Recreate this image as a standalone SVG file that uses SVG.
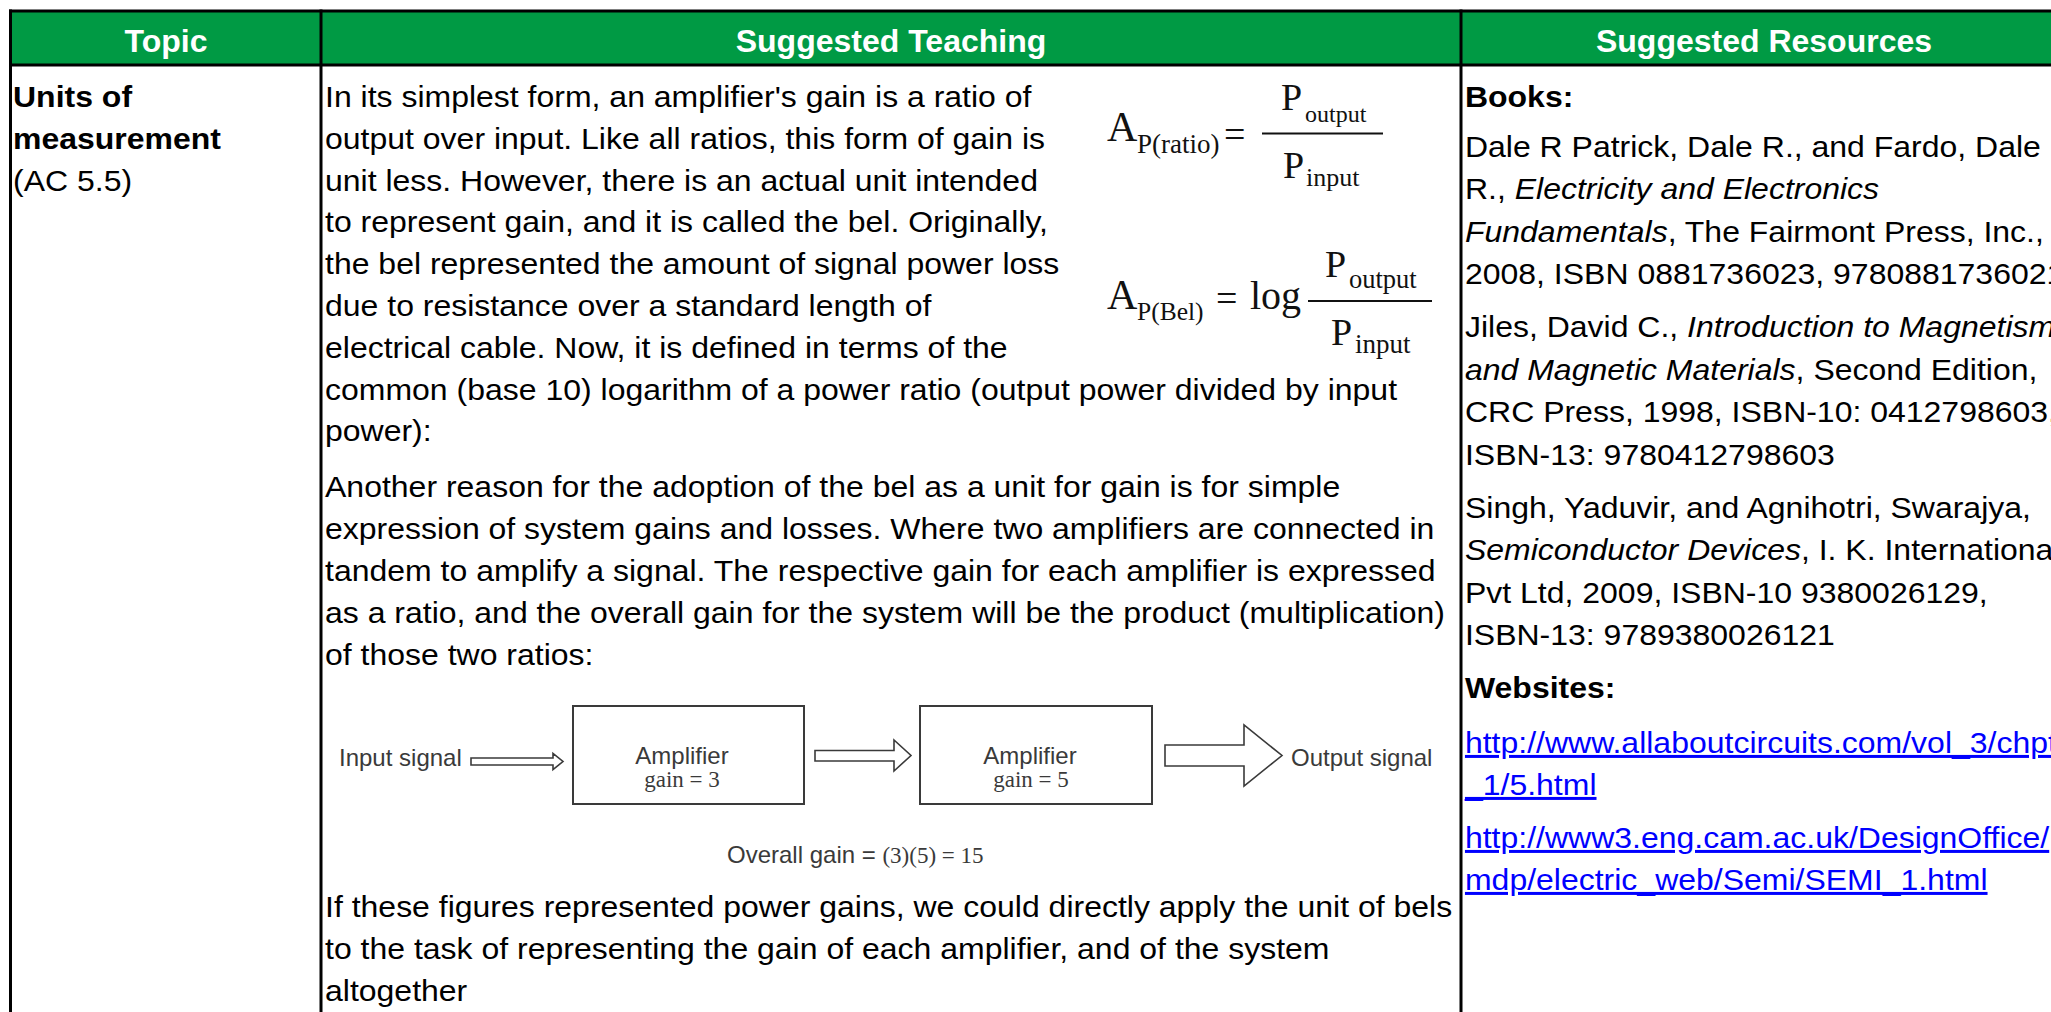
<svg xmlns="http://www.w3.org/2000/svg" width="2051" height="1012" viewBox="0 0 2051 1012">
<style>
.t{font-family:"Liberation Sans",Arial,sans-serif;font-size:30px;fill:#000}
.b{font-weight:bold}
.h{font-family:"Liberation Sans",Arial,sans-serif;font-size:32px;font-weight:bold;fill:#fff;text-anchor:middle}
.i{font-style:italic}
.lk{fill:#0000ff;text-decoration:underline}
.f{font-family:"Liberation Serif","Times New Roman",serif;fill:#111}
.d{font-family:"Liberation Sans",Arial,sans-serif;font-size:24px;fill:#3a3a3a}
.ds{font-family:"Liberation Serif","Times New Roman",serif;font-size:23px;fill:#3a3a3a}
.box{fill:#fff;stroke:#3a3a3a;stroke-width:2}
.arr{fill:#fff;stroke:#3a3a3a;stroke-width:1.6;stroke-linejoin:miter}
.grid{stroke:#000;stroke-width:3;fill:none}
.bar{stroke:#111;stroke-width:2}
</style>
<rect width="2051" height="1012" fill="#fff"/>
<g id="header">
<rect x="10.5" y="11" width="2080" height="54" fill="#009a44"/>
<text class="h" x="166" y="52">Topic</text>
<text class="h" x="891" y="52">Suggested Teaching</text>
<text class="h" x="1764" y="52">Suggested Resources</text>
</g>
<g id="grid">
<line class="grid" x1="9" y1="11" x2="2100" y2="11"/>
<line class="grid" x1="9" y1="65" x2="2100" y2="65"/>
<line class="grid" x1="10.5" y1="9.5" x2="10.5" y2="1012"/>
<line class="grid" x1="321" y1="9.5" x2="321" y2="1012"/>
<line class="grid" x1="1461" y1="9.5" x2="1461" y2="1012"/>
</g>
<g id="cell-topic" transform="scale(1.066667,1)">
<text class="t b" x="12.2" y="107">Units of</text>
<text class="t b" x="12.2" y="149">measurement</text>
<text class="t" x="12.2" y="191.5">(AC 5.5)</text>
</g>
<g id="cell-teaching" transform="scale(1.066667,1)">
<text class="t" x="304.7" y="107">In its simplest form, an amplifier's gain is a ratio of</text>
<text class="t" x="304.7" y="148.8">output over input. Like all ratios, this form of gain is</text>
<text class="t" x="304.7" y="190.6">unit less. However, there is an actual unit intended</text>
<text class="t" x="304.7" y="232.4">to represent gain, and it is called the bel. Originally,</text>
<text class="t" x="304.7" y="274.2">the bel represented the amount of signal power loss</text>
<text class="t" x="304.7" y="316">due to resistance over a standard length of</text>
<text class="t" x="304.7" y="357.8">electrical cable. Now, it is defined in terms of the</text>
<text class="t" x="304.7" y="399.6">common (base 10) logarithm of a power ratio (output power divided by input</text>
<text class="t" x="304.7" y="441.4">power):</text>
<text class="t" x="304.7" y="497">Another reason for the adoption of the bel as a unit for gain is for simple</text>
<text class="t" x="304.7" y="539">expression of system gains and losses. Where two amplifiers are connected in</text>
<text class="t" x="304.7" y="581">tandem to amplify a signal. The respective gain for each amplifier is expressed</text>
<text class="t" x="304.7" y="623">as a ratio, and the overall gain for the system will be the product (multiplication)</text>
<text class="t" x="304.7" y="665">of those two ratios:</text>
<text class="t" x="304.7" y="917">If these figures represented power gains, we could directly apply the unit of bels</text>
<text class="t" x="304.7" y="959">to the task of representing the gain of each amplifier, and of the system</text>
<text class="t" x="304.7" y="1001">altogether</text>
</g>
<g id="formula-ratio">
<text class="f" font-size="42" x="1107" y="141">A</text>
<text class="f" font-size="27" x="1137" y="153">P(ratio)</text>
<text class="f" font-size="38" x="1224" y="147">=</text>
<line class="bar" x1="1262" y1="133.5" x2="1383" y2="133.5"/>
<text class="f" font-size="38" x="1281" y="110">P</text>
<text class="f" font-size="24" x="1305" y="122">output</text>
<text class="f" font-size="38" x="1283" y="178">P</text>
<text class="f" font-size="26" x="1306" y="186">input</text>
</g>
<g id="formula-bel">
<text class="f" font-size="42" x="1107" y="309">A</text>
<text class="f" font-size="25.5" x="1137" y="320">P(Bel)</text>
<text class="f" font-size="38" x="1216" y="311">=</text>
<text class="f" font-size="40" x="1250" y="309">log</text>
<line class="bar" x1="1308" y1="301" x2="1432" y2="301"/>
<text class="f" font-size="38" x="1325" y="277">P</text>
<text class="f" font-size="26.5" x="1349" y="288">output</text>
<text class="f" font-size="38" x="1331" y="345">P</text>
<text class="f" font-size="27" x="1355" y="353">input</text>
</g>
<g id="label-input">
<text class="d" x="339" y="766">Input signal</text>
</g>
<g id="node-amp1">
<rect class="box" x="573" y="706" width="231" height="98"/>
<text class="d" x="682" y="764" text-anchor="middle">Amplifier</text>
<text class="ds" x="682" y="787" text-anchor="middle">gain = 3</text>
</g>
<g id="node-amp2">
<rect class="box" x="920" y="706" width="232" height="98"/>
<text class="d" x="1030" y="764" text-anchor="middle">Amplifier</text>
<text class="ds" x="1031" y="787" text-anchor="middle">gain = 5</text>
</g>
<g id="label-output">
<text class="d" x="1291" y="766">Output signal</text>
</g>
<g id="connectors">
<polygon class="arr" points="471,758 553,758 553,753.5 563,761.5 553,769.5 553,765 471,765"/>
<polygon class="arr" points="815,750.5 894,750.5 894,740 911,755.5 894,771 894,761 815,761"/>
<polygon class="arr" points="1165,745 1244,745 1244,725 1282,755.5 1244,786 1244,766 1165,766"/>
</g>
<g id="label-overall">
<text class="d" x="727" y="863" font-size="23">Overall gain = <tspan class="ds">(3)(5) = 15</tspan></text>
</g>
<g id="cell-resources" transform="scale(1.066667,1)">
<text class="t b" x="1373.4" y="107">Books:</text>
<text class="t" x="1373.4" y="157">Dale R Patrick, Dale R., and Fardo, Dale</text>
<text class="t" x="1373.4" y="199.5">R., <tspan class="i">Electricity and Electronics</tspan></text>
<text class="t" x="1373.4" y="242"><tspan class="i">Fundamentals</tspan>, The Fairmont Press, Inc.,</text>
<text class="t" x="1373.4" y="284.5">2008, ISBN 0881736023, 9780881736021</text>
<text class="t" x="1373.4" y="337.5">Jiles, David C., <tspan class="i">Introduction to Magnetism</tspan></text>
<text class="t" x="1373.4" y="380"><tspan class="i">and Magnetic Materials</tspan>, Second Edition,</text>
<text class="t" x="1373.4" y="422.5">CRC Press, 1998, ISBN-10: 0412798603,</text>
<text class="t" x="1373.4" y="465">ISBN-13: 9780412798603</text>
<text class="t" x="1373.4" y="518">Singh, Yaduvir, and Agnihotri, Swarajya,</text>
<text class="t" x="1373.4" y="560.5"><tspan class="i">Semiconductor Devices</tspan>, I. K. International</text>
<text class="t" x="1373.4" y="603">Pvt Ltd, 2009, ISBN-10 9380026129,</text>
<text class="t" x="1373.4" y="645.5">ISBN-13: 9789380026121</text>
<text class="t b" x="1373.4" y="698">Websites:</text>
<text class="t lk" x="1373.4" y="753">http://www.allaboutcircuits.com/vol_3/chpt</text>
<text class="t lk" x="1373.4" y="795">_1/5.html</text>
<text class="t lk" x="1373.4" y="848">http://www3.eng.cam.ac.uk/DesignOffice/</text>
<text class="t lk" x="1373.4" y="890">mdp/electric_web/Semi/SEMI_1.html</text>
</g>
</svg>
